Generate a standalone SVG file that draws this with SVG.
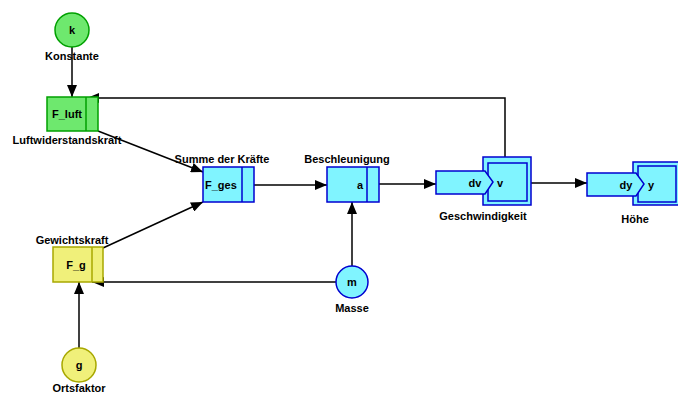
<svg xmlns="http://www.w3.org/2000/svg" width="678" height="394" viewBox="0 0 678 394">
<style>
text{font-family:"Liberation Sans",Arial,sans-serif;font-weight:bold;font-size:11px;fill:#000}
.c{text-anchor:middle}
.e{stroke:#000;stroke-width:1.5;fill:none}
.grn{fill:#6ee86e;stroke:#00a000;stroke-width:1.5}
.yel{fill:#f0f07a;stroke:#a8a800;stroke-width:1.5}
.cya{fill:#80f4ff;stroke:#0000d0;stroke-width:1.5}
</style>
<defs>
<marker id="ah" viewBox="0 0 12 10" refX="12" refY="5" markerWidth="12" markerHeight="10" markerUnits="userSpaceOnUse" orient="auto">
<path d="M0,0 L12,5 L0,10 Z" fill="#000"/>
</marker>
</defs>
<rect width="678" height="394" fill="#fff"/>
<g id="connectors">
<path class="e" d="M72,47 V97" marker-end="url(#ah)"/>
<path class="e" d="M505,157 V98 H87" marker-end="url(#ah)"/>
<path class="e" d="M98,131 L203,172" marker-end="url(#ah)"/>
<path class="e" d="M103,248 L203,202" marker-end="url(#ah)"/>
<path class="e" d="M254,185 H327" marker-end="url(#ah)"/>
<path class="e" d="M352,266 V202" marker-end="url(#ah)"/>
<path class="e" d="M379,184 H436" marker-end="url(#ah)"/>
<path class="e" d="M531,183 H587" marker-end="url(#ah)"/>
<path class="e" d="M336,282 H92" marker-end="url(#ah)"/>
<path class="e" d="M79,348 V282" marker-end="url(#ah)"/>
</g>
<g id="k">
<circle class="grn" cx="72" cy="30" r="17"/>
<text class="c" x="72" y="34">k</text>
<text class="c" x="72" y="60">Konstante</text>
</g>
<g id="F_luft">
<rect class="grn" x="47" y="97" width="51" height="34"/>
<line x1="86" y1="97" x2="86" y2="131" stroke="#00a000" stroke-width="1.5"/>
<text class="c" x="67" y="118">F_luft</text>
<text class="c" x="67" y="144">Luftwiderstandskraft</text>
</g>
<g id="F_ges">
<rect class="cya" x="203" y="167" width="51" height="35"/>
<line x1="242" y1="167" x2="242" y2="202" stroke="#0000d0" stroke-width="1.5"/>
<text x="205" y="189">F_ges</text>
<text class="c" x="222" y="163">Summe der Kräfte</text>
</g>
<g id="a">
<rect class="cya" x="327" y="167" width="52" height="35"/>
<line x1="367" y1="167" x2="367" y2="202" stroke="#0000d0" stroke-width="1.5"/>
<text class="c" x="360" y="189">a</text>
<text class="c" x="347" y="163">Beschleunigung</text>
</g>
<g id="v">
<rect class="cya" x="483" y="157" width="48" height="48"/>
<rect class="cya" x="488" y="163" width="39" height="38"/>
<path class="cya" d="M436,171 H485 L493,182 L485,194 H436 Z"/>
<text class="c" x="475" y="187">dv</text>
<text class="c" x="500" y="187">v</text>
<text class="c" x="483" y="220">Geschwindigkeit</text>
</g>
<g id="y">
<rect class="cya" x="633" y="162" width="48" height="43"/>
<rect class="cya" x="638" y="166" width="38" height="36"/>
<path class="cya" d="M587,173 H636 L644,184 L636,196 H587 Z"/>
<text class="c" x="626" y="189">dy</text>
<text class="c" x="651" y="189">y</text>
<text class="c" x="635" y="223">Höhe</text>
</g>
<g id="F_g">
<rect class="yel" x="53" y="247" width="50" height="35"/>
<line x1="92" y1="247" x2="92" y2="282" stroke="#a8a800" stroke-width="1.5"/>
<text class="c" x="76" y="269">F_g</text>
<text class="c" x="72" y="244">Gewichtskraft</text>
</g>
<g id="m">
<circle class="cya" cx="352" cy="282" r="16"/>
<text class="c" x="352" y="286">m</text>
<text class="c" x="352" y="312">Masse</text>
</g>
<g id="g">
<circle class="yel" cx="79" cy="365" r="17"/>
<text class="c" x="79" y="369">g</text>
<text class="c" x="79" y="392">Ortsfaktor</text>
</g>
</svg>
